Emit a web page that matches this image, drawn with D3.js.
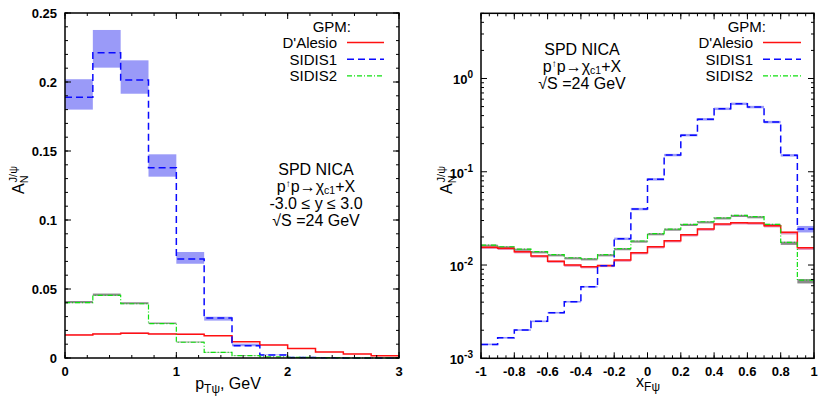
<!DOCTYPE html>
<html>
<head>
<meta charset="utf-8">
<script src="https://cdn.jsdelivr.net/npm/d3@7"></script>
<style>
  body { margin: 0; background: #fff; }
  svg { font-family: "Liberation Sans", Arial, Helvetica, sans-serif; }
  .tick-label { font-size: 13px; font-weight: bold; }
  .note { font-size: 16px; }
  .legend { font-size: 15px; }
</style>
</head>
<body>
<svg id="chart" width="818" height="397"></svg>
<script>
// ---- left panel: A_N vs pT (bins of 0.25 GeV) ----
const ptEdges = [0, 0.25, 0.5, 0.75, 1, 1.25, 1.5, 1.75, 2, 2.25, 2.5, 2.75, 3];
const ptDAlesio = [0.0167, 0.0174, 0.0179, 0.0174, 0.0172, 0.0161, 0.0118, 0.0094, 0.0068, 0.0043, 0.0029, 0.0017];
const ptSidis1 = [0.189, 0.2212, 0.2014, 0.1379, 0.0717, 0.0290, 0.0089, 0.0022, 0.0004, 0.0001, 0, 0];
const ptSidis1Lo = [0.180, 0.2104, 0.1915, 0.1314, 0.0683, 0.0271, 0.0085, 0.0020, 0.0003, 0, 0, 0];
const ptSidis1Hi = [0.202, 0.2377, 0.2157, 0.1476, 0.0768, 0.0299, 0.0104, 0.0026, 0.0006, 0.0002, 0, 0];
const ptSidis2 = [0.0401, 0.0454, 0.0393, 0.0249, 0.0114, 0.0041, 0.0017, 0.0008, 0.0004, 0.0002, 0.0001, 0.0001];
const ptSidis2Err = [0.0012, 0.0013, 0.0011, 0.0008, 0.0005, 0.0003, 0.0002, 0.0001, 0.0001, 0, 0, 0];
const ptDAlesioErr = [0.0004, 0.0004, 0.0006, 0.0004, 0.0004, 0.0004, 0.0003, 0.0003, 0.0002, 0.0002, 0.0001, 0.0001];
const ptTicks = [0, 1, 2, 3];
const ptYTicks = [0, 0.05, 0.1, 0.15, 0.2, 0.25];

// ---- right panel: A_N vs xF (bins of 0.1) ----
const xfEdges = [-1, -0.9, -0.8, -0.7, -0.6, -0.5, -0.4, -0.3, -0.2, -0.1, 0, 0.1, 0.2, 0.3, 0.4, 0.5, 0.6, 0.7, 0.8, 0.9, 1];
const xfDAlesio = [0.0155, 0.0151, 0.0139, 0.0125, 0.0110, 0.0100, 0.0096, 0.0099, 0.0113, 0.01355, 0.0157, 0.0182, 0.0211, 0.0243, 0.0275, 0.0284, 0.0282, 0.0264, 0.0224, 0.0153];
const xfSidis1 = [0.00141, 0.00166, 0.00201, 0.00249, 0.00308, 0.00404, 0.00585, 0.00984, 0.0191, 0.0398, 0.0829, 0.151, 0.247, 0.365, 0.473, 0.535, 0.494, 0.341, 0.150, 0.0243];
const xfSidis2 = [0.01637, 0.0157, 0.0148, 0.0139, 0.0129, 0.01197, 0.01168, 0.0129, 0.0150, 0.0181, 0.0217, 0.0243, 0.0273, 0.0291, 0.0321, 0.0341, 0.0330, 0.0273, 0.0175, 0.0069];
// relative band half-widths
const xfDAlesioErr = [0.04, 0.04, 0.04, 0.04, 0.04, 0.04, 0.04, 0.04, 0.04, 0.04, 0.04, 0.04, 0.04, 0.04, 0.04, 0.04, 0.04, 0.04, 0.05, 0.05];
const xfSidis1Err = [0.02, 0.02, 0.02, 0.02, 0.02, 0.02, 0.02, 0.02, 0.03, 0.03, 0.03, 0.03, 0.03, 0.03, 0.03, 0.03, 0.03, 0.03, 0.03, 0.08];
const xfSidis2Err = [0.04, 0.04, 0.04, 0.04, 0.04, 0.04, 0.04, 0.04, 0.04, 0.04, 0.04, 0.04, 0.04, 0.04, 0.04, 0.04, 0.04, 0.04, 0.06, 0.08];
const xfTicks = [-1, -0.8, -0.6, -0.4, -0.2, 0, 0.2, 0.4, 0.6, 0.8, 1];
const xfYTicks = [1e-3, 1e-2, 1e-1, 1];

const legendNames = ["D'Alesio", "SIDIS1", "SIDIS2"];

const colRed = "#ff1010", colBlue = "#0a0aff", colGreen = "#10e010";
const styles = [
  { color: colRed, dash: null, width: 1.5 },
  { color: colBlue, dash: "7,4", width: 1.5 },
  { color: colGreen, dash: "5,2,1,2", width: 1.2 }
];

const svg = d3.select("#chart");

// step path through the library's scales
function stepLine(x, y) {
  return d3.line().x(d => x(d[0])).y(d => y(d[1])).curve(d3.curveStepAfter);
}
function stepData(edges, vals) {
  const pts = vals.map((v, i) => [edges[i], v]);
  pts.push([edges[edges.length - 1], vals[vals.length - 1]]);
  return pts;
}

function drawBands(g, x, y, edges, lo, hi, fill, opacity) {
  g.selectAll(null).data(lo).enter().append("rect")
    .attr("x", (d, i) => x(edges[i]))
    .attr("width", (d, i) => x(edges[i + 1]) - x(edges[i]))
    .attr("y", (d, i) => y(hi[i]))
    .attr("height", (d, i) => Math.max(0, y(lo[i]) - y(hi[i])))
    .attr("fill", fill)
    .attr("opacity", opacity);
}

function drawFrame(x, y, xMajor, xMinor, yMajor, yMinor) {
  const [x0, x1] = x.range(), [y0, y1] = y.range();
  const g = svg.append("g").attr("stroke", "#000").attr("stroke-width", 1);
  const tick = (v, len, horiz) => {
    if (horiz) {
      g.append("line").attr("x1", x(v)).attr("x2", x(v)).attr("y1", y0).attr("y2", y0 - len);
      g.append("line").attr("x1", x(v)).attr("x2", x(v)).attr("y1", y1).attr("y2", y1 + len);
    } else {
      g.append("line").attr("y1", y(v)).attr("y2", y(v)).attr("x1", x0).attr("x2", x0 + len);
      g.append("line").attr("y1", y(v)).attr("y2", y(v)).attr("x1", x1).attr("x2", x1 - len);
    }
  };
  xMinor.forEach(v => tick(v, 3, true));
  xMajor.forEach(v => tick(v, 6, true));
  yMinor.forEach(v => tick(v, 3, false));
  yMajor.forEach(v => tick(v, 6, false));
  svg.append("rect").attr("x", x0).attr("y", y1).attr("width", x1 - x0).attr("height", y0 - y1)
    .attr("fill", "none").attr("stroke", "#000").attr("stroke-width", 1.5);
}

function drawLegend(right, lineX0, lineX1) {
  const g = svg.append("g").attr("class", "legend");
  g.append("text").attr("x", right).attr("y", 32).attr("text-anchor", "end").text("GPM:");
  legendNames.forEach((n, i) => {
    const yy = 48 + i * 16.7;
    g.append("text").attr("x", lineX0 - 10).attr("y", yy).attr("text-anchor", "end").text(n);
    g.append("line").attr("x1", lineX0).attr("x2", lineX1).attr("y1", yy - 5.5).attr("y2", yy - 5.5)
      .attr("stroke", styles[i].color).attr("stroke-width", styles[i].width)
      .attr("stroke-dasharray", styles[i].dash);
  });
}

function drawYLabel(xPos, yPos) {
  const t = svg.append("text").attr("transform", `translate(${xPos},${yPos}) rotate(-90)`)
    .attr("text-anchor", "middle").style("font-size", "16px");
  t.append("tspan").text("A");
  t.append("tspan").attr("dy", 4).style("font-size", "11px").text("N");
  t.append("tspan").attr("dx", -7).attr("dy", -11).style("font-size", "11px").text("J/ψ");
}

function drawNote(cx, y0, lines) {
  const g = svg.append("g").attr("class", "note").attr("text-anchor", "middle");
  lines.forEach((parts, i) => {
    const t = g.append("text").attr("x", cx).attr("y", y0 + i * 17);
    parts.forEach(p => {
      const s = t.append("tspan").text(p[0]);
      if (p[1] === "sup") s.attr("dy", -5).style("font-size", "10px");
      if (p[1] === "sub") s.attr("dy", 2).style("font-size", "10.5px");
      if (p[1] === "back") s.attr("dy", p[2]);
    });
  });
}
const reaction = [["p"], ["↑", "sup"], ["p→χ", "back", 5], ["c1", "sub"], ["+X", "back", -2]];

// ================= LEFT PANEL =================
{
  const x = d3.scaleLinear().domain([0, 3]).range([65, 399]);
  const y = d3.scaleLinear().domain([0, 0.25]).range([358, 13]);
  const g = svg.append("g");

  drawBands(g, x, y, ptEdges, ptSidis1Lo, ptSidis1Hi, "#9a9af8", 1);
  drawBands(g, x, y, ptEdges, ptSidis2.map((v, i) => v - ptSidis2Err[i] * 0.3), ptSidis2.map((v, i) => v + ptSidis2Err[i]), "#8a8a8a", 1);
  drawBands(g, x, y, ptEdges, ptDAlesio.map((v, i) => v - ptDAlesioErr[i] * 0.3), ptDAlesio.map((v, i) => v + ptDAlesioErr[i]), "#d080c8", 0.9);

  [ptDAlesio, ptSidis1, ptSidis2].forEach((vals, i) => {
    g.append("path").attr("d", stepLine(x, y)(stepData(ptEdges, vals)))
      .attr("fill", "none").attr("stroke", styles[i].color).attr("stroke-width", styles[i].width)
      .attr("stroke-dasharray", styles[i].dash);
  });

  drawFrame(x, y, ptTicks, d3.range(0, 3.001, 0.2), ptYTicks, d3.range(0, 0.2501, 0.01));

  svg.append("g").attr("class", "tick-label").attr("text-anchor", "end")
    .selectAll("text").data(ptYTicks).enter().append("text")
    .attr("x", 57).attr("y", d => y(d) + 5).text(d => d3.format("~g")(d));
  svg.append("g").attr("class", "tick-label").attr("text-anchor", "middle")
    .selectAll("text").data(ptTicks).enter().append("text")
    .attr("x", d => x(d)).attr("y", 376).text(d => d);

  const xl = svg.append("text").attr("x", 228).attr("y", 389).attr("text-anchor", "middle").style("font-size", "16px");
  xl.append("tspan").text("p");
  xl.append("tspan").attr("dy", 4).style("font-size", "12px").text("Tψ");
  xl.append("tspan").attr("dy", -4).text(", GeV");

  drawYLabel(24, 180);
  drawLegend(351, 347, 384);
  drawNote(316, 175, [[["SPD NICA"]], reaction, [["-3.0 ≤ y ≤ 3.0"]], [["√S =24 GeV"]]]);
}

// ================= RIGHT PANEL =================
{
  const x = d3.scaleLinear().domain([-1, 1]).range([481, 814]);
  const y = d3.scaleLog().domain([1e-3, 5]).range([358.3, 13.3]);
  const g = svg.append("g");

  drawBands(g, x, y, xfEdges, xfSidis1.map((v, i) => v * (1 - xfSidis1Err[i])), xfSidis1.map((v, i) => v * (1 + xfSidis1Err[i])), "#9a9af8", 1);
  drawBands(g, x, y, xfEdges, xfSidis2.map((v, i) => v * (1 - xfSidis2Err[i])), xfSidis2.map((v, i) => v * (1 + xfSidis2Err[i] * 0.3)), "#8a8a8a", 1);
  drawBands(g, x, y, xfEdges, xfDAlesio.map((v, i) => v * (1 - xfDAlesioErr[i])), xfDAlesio.map((v, i) => v * (1 + xfDAlesioErr[i] * 0.3)), "#e080b0", 0.9);

  [xfDAlesio, xfSidis1, xfSidis2].forEach((vals, i) => {
    g.append("path").attr("d", stepLine(x, y)(stepData(xfEdges, vals)))
      .attr("fill", "none").attr("stroke", styles[i].color).attr("stroke-width", styles[i].width)
      .attr("stroke-dasharray", styles[i].dash);
  });

  const yMinor = [];
  [1e-3, 1e-2, 1e-1, 1].forEach(dec => d3.range(2, 10).forEach(k => { if (dec * k <= 5) yMinor.push(dec * k); }));
  drawFrame(x, y, xfTicks, d3.range(-1, 1.001, 0.05), xfYTicks, yMinor);

  const yl = svg.append("g").attr("class", "tick-label").attr("text-anchor", "end")
    .selectAll("text").data(xfYTicks).enter().append("text")
    .attr("x", 473).attr("y", d => y(d) + 6);
  yl.append("tspan").text("10");
  yl.append("tspan").attr("dy", -6).style("font-size", "10px").text(d => Math.round(Math.log10(d)));

  svg.append("g").attr("class", "tick-label").attr("text-anchor", "middle")
    .selectAll("text").data(xfTicks).enter().append("text")
    .attr("x", d => x(d)).attr("y", 376).text(d => d3.format("~g")(d).replace("−", "-"));

  const xl = svg.append("text").attr("x", 648).attr("y", 387).attr("text-anchor", "middle").style("font-size", "16px");
  xl.append("tspan").text("x");
  xl.append("tspan").attr("dy", 4).style("font-size", "12px").text("Fψ");

  drawYLabel(452, 180);
  drawLegend(766, 763, 801);
  drawNote(582, 55, [[["SPD NICA"]], reaction, [["√S =24 GeV"]]]);
}
</script>
</body>
</html>
